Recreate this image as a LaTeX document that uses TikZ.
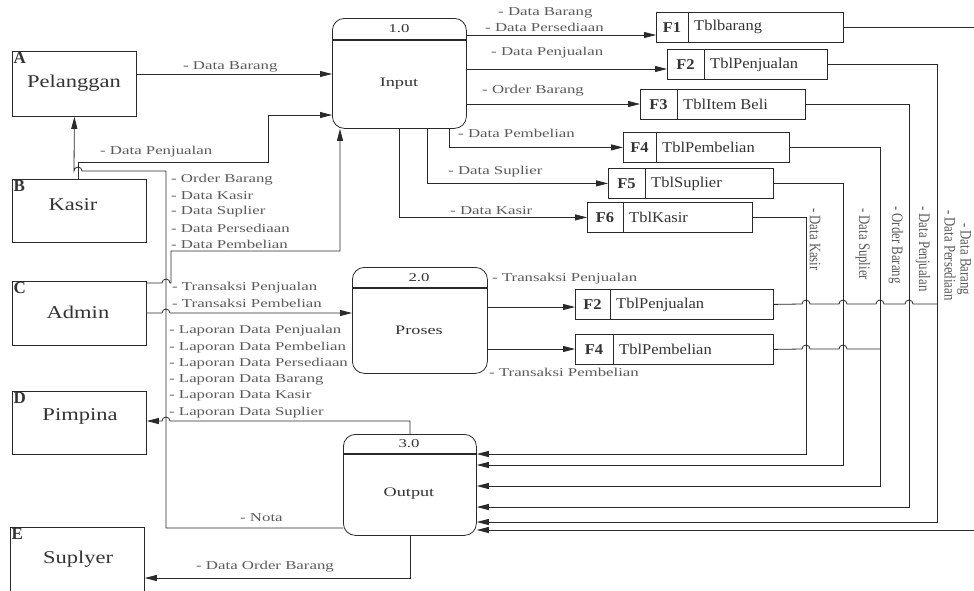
\documentclass[tikz,border=0pt]{standalone}
\usepackage{fontspec}
\setmainfont{Liberation Serif}
\newfontfamily\lblfont[FakeStretch=1.4]{Liberation Serif}
\newfontfamily\vlblfont[FakeStretch=0.8]{Liberation Serif}
\newfontfamily\entfont[FakeStretch=1.25]{Liberation Serif}
\newfontfamily\storefont[FakeStretch=1.1]{Liberation Serif}
\usetikzlibrary{arrows.meta}
\definecolor{lblgray}{HTML}{5A5A5A}
\definecolor{txtdark}{HTML}{333333}
\definecolor{linedark}{HTML}{2A2A2A}

% line jumps over a crossing vertical line
\newcommand{\hopr}[2]{-- ({#1-4},#2) arc[start angle=180,end angle=0,radius=4pt]}
\newcommand{\hopl}[2]{-- ({#1+4},#2) arc[start angle=0,end angle=180,radius=4pt]}

% data store: name, top left, width, id width, id, table
\newcommand{\datastore}[6]{%
  \node[store, minimum width=#3pt] (#1) at (#2) {};
  \draw[boxline] ([xshift=#4pt]#1.north west) -- ([xshift=#4pt]#1.south west);
  \node[storeid] (#1-id) at ([xshift=#4pt/2]#1.west) {#5};
  \node[storetext] (#1-txt) at ([xshift=#4pt+6pt]#1.west) {#6};
}

\begin{document}
\begin{tikzpicture}[x=1pt, y=-1pt,
  boxline/.style={draw=linedark, line width=0.8pt},
  entity/.style={boxline, rectangle, anchor=north west, inner sep=0pt},
  process/.style={boxline, rectangle, rounded corners=12pt, anchor=north west, inner sep=0pt},
  header/.style={draw=linedark, line width=1.6pt},
  store/.style={boxline, rectangle, anchor=north west, inner sep=0pt, minimum height=30pt},
  conn/.style={draw=linedark, line width=0.8pt},
  flow/.style={conn, -{Triangle[length=12pt,width=6pt]}},
  lbl/.style={anchor=west, inner sep=0pt, text=lblgray, font=\lblfont\fontsize{12}{14}\selectfont},
  vlbl/.style={lbl, rotate=-90, font=\vlblfont\fontsize{16}{16}\selectfont},
  entname/.style={inner sep=0pt, text=txtdark, font=\entfont\fontsize{18}{18}\selectfont},
  entid/.style={anchor=north west, inner sep=1.5pt, text=txtdark, font=\bfseries\fontsize{17}{17}\selectfont},
  procno/.style={inner sep=0pt, text=txtdark, font=\lblfont\fontsize{12}{12}\selectfont},
  procname/.style={inner sep=0pt, text=txtdark, font=\lblfont\fontsize{13}{13}\selectfont},
  storeid/.style={inner sep=0pt, text=txtdark, font=\storefont\bfseries\fontsize{15}{15}\selectfont},
  storetext/.style={anchor=west, inner sep=0pt, text=txtdark, font=\storefont\fontsize{15}{15}\selectfont}]
\useasboundingbox (0,0) rectangle (974,590);

% external entities
\node[entity, minimum width=124pt, minimum height=65pt] (Pelanggan) at (12,51) {};
\node[entid] (Pelanggan-id) at (Pelanggan.north west) {A};
\node[entname] (Pelanggan-name) at (74,83) {Pelanggan};
\node[entity, minimum width=134pt, minimum height=63pt] (Kasir) at (12,179) {};
\node[entid] (Kasir-id) at (Kasir.north west) {B};
\node[entname] (Kasir-name) at (73,205) {Kasir};
\node[entity, minimum width=134pt, minimum height=64pt] (Admin) at (12,281) {};
\node[entid] (Admin-id) at (Admin.north west) {C};
\node[entname] (Admin-name) at (78,312) {Admin};
\node[entity, minimum width=134pt, minimum height=63pt] (Pimpina) at (12,391) {};
\node[entid] (Pimpina-id) at (Pimpina.north west) {D};
\node[entname] (Pimpina-name) at (80,416) {Pimpina};
\node[entity, minimum width=134pt, minimum height=70pt] (Suplyer) at (10,527) {};
\node[entid] (Suplyer-id) at (Suplyer.north west) {E};
\node[entname] (Suplyer-name) at (78,559) {Suplyer};

% processes
\node[process, minimum width=134pt, minimum height=110pt] (Input) at (332,18) {};
\draw[header] (Input.west |- 0,40) -- (Input.east |- 0,40);
\node[procno] (Input-no) at (399,29) {1.0};
\node[procname] (Input-name) at (399,84) {Input};
\node[process, minimum width=135pt, minimum height=106pt] (Proses) at (352,267) {};
\draw[header] (Proses.west |- 0,288) -- (Proses.east |- 0,288);
\node[procno] (Proses-no) at (419,278) {2.0};
\node[procname] (Proses-name) at (419,330) {Proses};
\node[process, minimum width=133pt, minimum height=101pt] (Output) at (343,434) {};
\draw[header] (Output.west |- 0,454) -- (Output.east |- 0,454);
\node[procno] (Output-no) at (409,444) {3.0};
\node[procname] (Output-name) at (409,494) {Output};

% data stores
\datastore{F1}{656,12}{187}{32}{F1}{Tblbarang}
\datastore{F2a}{667,49}{160}{37}{F2}{TblPenjualan}
\datastore{F3}{640,89}{165}{37}{F3}{TblItem Beli}
\datastore{F4a}{623,132}{166}{33}{F4}{TblPembelian}
\datastore{F5}{608,168}{165}{37}{F5}{TblSuplier}
\datastore{F6}{587,202}{165}{36}{F6}{TblKasir}
\datastore{F2b}{575,289}{198}{35}{F2}{TblPenjualan}
\datastore{F4b}{575,334}{198}{38}{F4}{TblPembelian}

% entities to input / proses
\draw[flow] (Pelanggan.east |- 0,74) -- (Input.west |- 0,74);
\draw[flow] (Kasir.north -| 78,0) -- (78,162) -- (268,162) -- (268,115) -- (Input.west |- 0,115);
\draw[flow] (Admin.east |- 0,283) \hopr{166}{283} -- (171,283) -- (171,251) -- (340,251) -- (Input.south -| 340,0);
\draw[flow] (Admin.east |- 0,313) \hopr{166}{313} -- (Proses.west |- 0,313);

% input to stores
\draw[flow] (Input.east |- 0,35) -- (F1.west |- 0,35);
\draw[flow] (Input.east |- 0,69) -- (F2a.west |- 0,69);
\draw[flow] (Input.east |- 0,104) -- (F3.west |- 0,104);
\draw[flow] (Input.south -| 449,0) |- (F4a.west);
\draw[flow] (Input.south -| 427,0) |- (F5.west);
\draw[flow] (Input.south -| 399,0) |- (F6.west);

% proses to stores
\draw[flow] (Proses.east |- 0,307) -- (F2b.west |- 0,307);
\draw[flow] (Proses.east |- 0,349) -- (F4b.west |- 0,349);
\draw[conn] (F2b.east) \hopr{806}{304} \hopr{843}{304} \hopr{880}{304} \hopr{909}{304} -- (937,304);
\draw[conn] (F4b.east) \hopr{806}{349} \hopr{843}{349} -- (880,349);

% stores to output
\draw[flow] (F6.east) -| (806,454) -- (Output.east |- 0,454);
\draw[flow] (F5.east) -| (843,465) -- (Output.east |- 0,465);
\draw[flow] (F4a.east) -| (880,486) -- (Output.east |- 0,486);
\draw[flow] (F3.east) -| (909,507) -- (Output.east |- 0,507);
\draw[flow] (F2a.east) -| (937,522) -- (Output.east |- 0,522);
\draw[flow] (F1.east) -| (990,530) -- (Output.east |- 0,530);

% output to entities
\draw[flow] (Output.north) -- (Output.north |- 0,421) \hopl{166}{421} -- (Pimpina.east |- 0,421);
\draw[flow] (Output.west |- 0,528) -- (166,528) -- (166,171) \hopl{78}{171} -- (Pelanggan.south);
\draw[flow] (Output.south) -- (Output.south |- 0,578) -- (Suplyer.east |- 0,578);

% labels
\node[lbl] (lbl-brg) at (183,67) {- Data Barang};
\node[lbl] (lbl-pjl) at (100,152) {- Data Penjualan};
\foreach \t [count=\i] in {Order Barang, Data Kasir, Data Suplier, Data Persediaan, Data Pembelian}
  \node[lbl] (adm-\i) at (171,{164+16*\i}) {- \t};
\node[lbl] (lbl-tpj) at (172,288) {- Transaksi Penjualan};
\node[lbl] (lbl-tpb) at (172,303) {- Transaksi Pembelian};
\foreach \t [count=\i] in {Penjualan, Pembelian, Persediaan, Barang, Kasir, Suplier}
  \node[lbl] (lap-\i) at (169,{314.7+16.3*\i}) {- Laporan Data \t};
\node[lbl] (lbl-nota) at (240,518) {- Nota};
\node[lbl] (lbl-ord) at (196,567) {- Data Order Barang};
\node[lbl] (in-brg) at (498,13) {- Data Barang};
\node[lbl] (in-psd) at (485,27) {- Data Persediaan};
\node[lbl] (in-pjl) at (491,53) {- Data Penjualan};
\node[lbl] (in-ord) at (482,91) {- Order Barang};
\node[lbl] (in-pbl) at (458,133) {- Data Pembelian};
\node[lbl] (in-spl) at (448,172) {- Data Suplier};
\node[lbl] (in-ksr) at (450,211) {- Data Kasir};
\node[lbl] (pr-tpj) at (492,279) {- Transaksi Penjualan};
\node[lbl] (pr-tpb) at (489,372) {- Transaksi Pembelian};
\foreach \x/\y/\t in {815/208/Data Kasir, 863/208/Data Suplier, 896/206/Order Barang,
    923/206/Data Penjualan, 950/210/Data Persediaan, 964/223/Data Barang}
  \node[vlbl] (out-\x) at (\x,\y) {- \t};
\end{tikzpicture}
\end{document}
